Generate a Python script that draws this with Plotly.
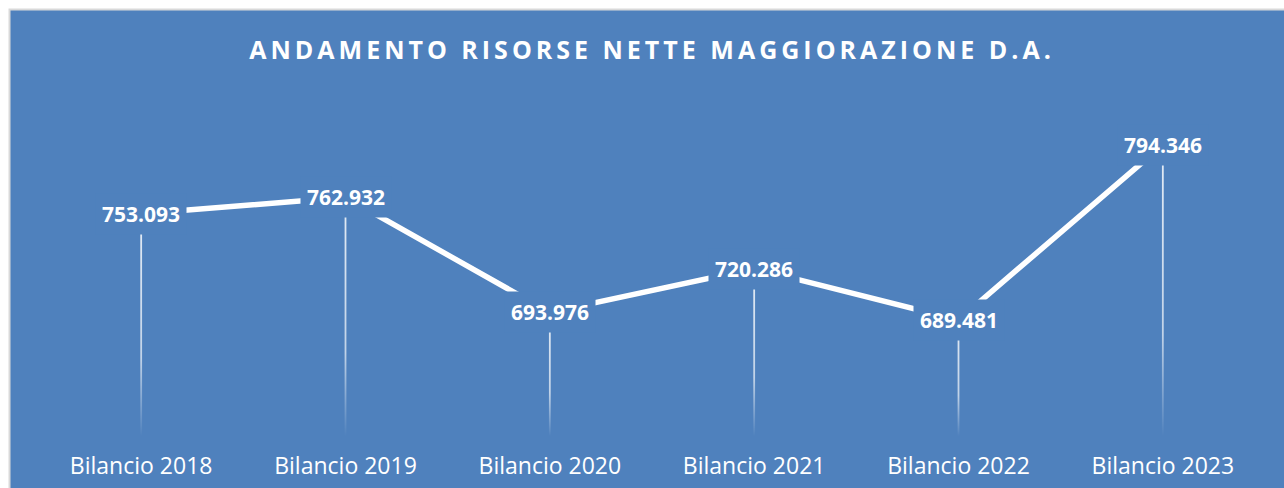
import plotly.graph_objects as go

title_text = "ANDAMENTO RISORSE NETTE MAGGIORAZIONE D.A."
categories = ["Bilancio 2018", "Bilancio 2019", "Bilancio 2020",
              "Bilancio 2021", "Bilancio 2022", "Bilancio 2023"]
values = [753093, 762932, 693976, 720286, 689481, 794346]

BLUE = "#4F81BD"
Y_MIN, Y_MAX = 620000, 820000
W, H = 1284, 488
ML, MR, MT, MB = 39, 19, 102, 52
pw, ph = W - ML - MR, H - MT - MB

def fmt(v):
    return f"{v:,}".replace(",", ".")

xs = list(range(len(categories)))
fig = go.Figure()

# drop lines (fading towards the axis)
half = 0.9 / (pw / len(categories))
for x, v in zip(xs, values):
    fig.add_trace(go.Scatter(
        x=[x - half, x + half, x + half, x - half, x - half],
        y=[Y_MIN, Y_MIN, v, v, Y_MIN],
        mode="lines", line=dict(width=0), fill="toself",
        fillgradient=dict(type="vertical", colorscale=[
            [0, "rgba(255,255,255,0)"],
            [0.05, "rgba(255,255,255,0.1)"],
            [0.35, "rgba(255,255,255,0.65)"],
            [1, "rgba(255,255,255,0.85)"]]),
        hoverinfo="skip", showlegend=False))

fig.add_trace(go.Scatter(
    x=xs, y=values, mode="lines",
    line=dict(color="white", width=5.5),
    showlegend=False, hoverinfo="skip"))

for x, v in zip(xs, values):
    fig.add_annotation(
        x=x, y=v, xref="x", yref="y", text=fmt(v), showarrow=False,
        font=dict(family="Open Sans", size=21, color="white", weight="bold"),
        bgcolor=BLUE, borderpad=6)

def px_to_paper_x(p):
    return (p - ML) / pw

def px_to_paper_y(p):
    return (H - MB - p) / ph

fig.add_shape(type="rect", xref="paper", yref="paper", layer="below",
              x0=px_to_paper_x(9.5), x1=px_to_paper_x(W + 10),
              y0=px_to_paper_y(H + 10), y1=px_to_paper_y(9.5),
              fillcolor=BLUE, line=dict(color="#D9D9D9", width=2))

fig.update_layout(
    width=W, height=H,
    margin=dict(l=ML, r=MR, t=MT, b=MB, autoexpand=False),
    paper_bgcolor="white", plot_bgcolor="rgba(0,0,0,0)",
    title=dict(
        text='<span style="letter-spacing:4px">' + title_text + "</span>",
        x=0.5, xref="paper", xanchor="center",
        y=1 - 50 / H, yref="container", yanchor="middle",
        font=dict(family="Open Sans", size=25, color="white", weight="bold")),
    xaxis=dict(range=[-0.5, len(categories) - 0.5], tickmode="array",
               tickvals=xs, ticktext=categories, showgrid=False,
               zeroline=False, showline=False, ticks="",
               ticklabelstandoff=14,
               tickfont=dict(family="Open Sans", size=23, color="white")),
    yaxis=dict(range=[Y_MIN, Y_MAX], visible=False, showgrid=False),
)

fig.write_html("out.html", config={"displayModeBar": False},
               post_script="document.body.style.margin='0';")
